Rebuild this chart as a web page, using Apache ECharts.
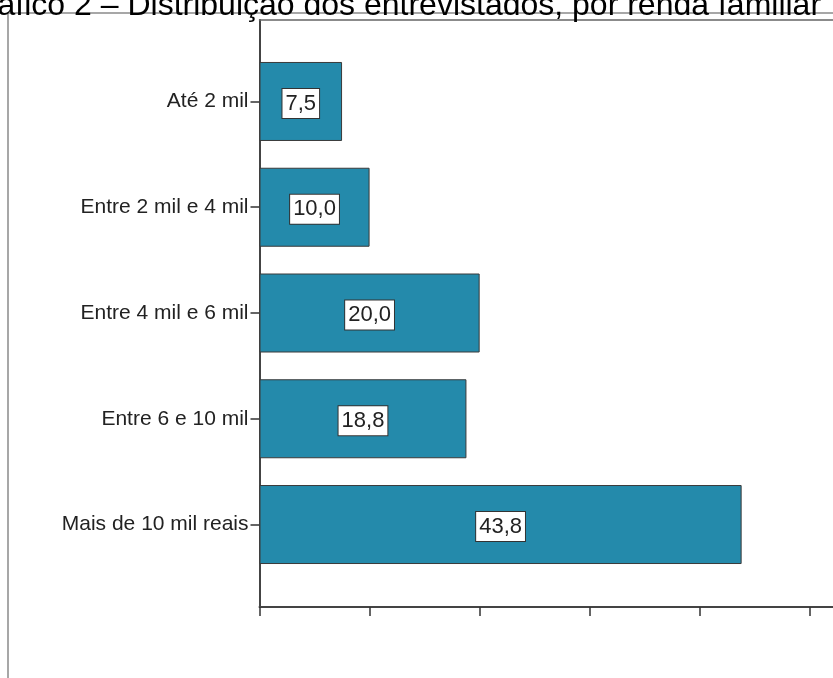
<!DOCTYPE html>
<html>
<head>
<meta charset="utf-8">
<script src="https://cdn.jsdelivr.net/npm/echarts@6/dist/echarts.min.js"></script>
<style>
  html, body { margin: 0; padding: 0; background: #fff; }
  #chart { width: 833px; height: 678px; }
</style>
</head>
<body>
<div id="chart"></div>
<script>
// Income brackets (top to bottom) and share of respondents, in percent
const categories = ['Até 2 mil', 'Entre 2 mil e 4 mil', 'Entre 4 mil e 6 mil', 'Entre 6 e 10 mil', 'Mais de 10 mil reais'];
const percentages = [7.5, 10.0, 20.0, 18.8, 43.8];
const titleText = 'Gráfico 2 – Distribuição dos entrevistados, por renda familiar';

// Percent scale: unlabeled ticks every 10; the axis is cut by the right edge
const axisMin = 0;
const axisMax = 52.1;
const tickValues = [0, 10, 20, 30, 40, 50];

const FONT = "'Liberation Sans', Arial, Helvetica, sans-serif";
const fmtPt = v => v.toFixed(1).replace('.', ',');

const chart = echarts.init(document.getElementById('chart'), null, { renderer: 'canvas' });

const plotLeft = 259.5;
const lineStyle = { color: '#444', width: 2 };

chart.setOption({
  animation: false,
  backgroundColor: '#ffffff',
  title: {
    text: titleText,
    left: -38,
    top: -10,
    padding: 0,
    textStyle: { fontFamily: FONT, fontSize: 32, fontWeight: 'normal', color: '#000' }
  },
  graphic: [{
    type: 'polyline',
    shape: { points: [[8, 678], [8, 13], [833, 13]] },
    style: { stroke: '#8a8a8a', lineWidth: 1.5, fill: null },
    silent: true,
    z: 0
  }],
  grid: [
    // bars
    { left: plotLeft, right: 0, top: 48.6, bottom: 100.6 },
    // plot frame with the axis lines
    { left: plotLeft, right: 0, top: 20, bottom: 71 }
  ],
  xAxis: [
    { gridIndex: 0, type: 'value', min: axisMin, max: axisMax, show: false },
    {
      gridIndex: 1, type: 'value', min: axisMin, max: axisMax, position: 'bottom',
      axisLine: { show: true, lineStyle },
      axisTick: { show: true, length: 9, customValues: tickValues, lineStyle: { color: '#333', width: 1.5 } },
      axisLabel: { show: false },
      splitLine: { show: false }
    },
    {
      gridIndex: 1, type: 'value', min: axisMin, max: axisMax, position: 'top',
      axisLine: { show: true, lineStyle: { color: '#666', width: 1.5 } },
      axisTick: { show: false },
      axisLabel: { show: false },
      splitLine: { show: false }
    }
  ],
  yAxis: [
    {
      gridIndex: 0, type: 'category', inverse: true, data: categories,
      axisLine: { show: false },
      axisTick: { show: true, alignWithLabel: true, length: 9, lineStyle: { color: '#333', width: 1.5 } },
      axisLabel: { fontFamily: FONT, fontSize: 21, color: '#222', margin: 11 },
      splitLine: { show: false }
    },
    {
      gridIndex: 1, type: 'value', min: 0, max: 1,
      axisLine: { show: true, lineStyle },
      axisTick: { show: false },
      axisLabel: { show: false },
      splitLine: { show: false }
    }
  ],
  series: [{
    type: 'bar',
    xAxisIndex: 0,
    yAxisIndex: 0,
    data: percentages,
    barWidth: 79,
    itemStyle: { color: '#248AAB', borderColor: '#3a3a3a', borderWidth: 1 },
    label: {
      show: true,
      position: 'inside',
      offset: [0, 2],
      formatter: p => fmtPt(p.value),
      fontFamily: FONT,
      fontSize: 22,
      color: '#222',
      backgroundColor: '#fff',
      borderColor: '#333',
      borderWidth: 1,
      padding: [4, 3, 3, 3]
    }
  }]
});
</script>
</body>
</html>
